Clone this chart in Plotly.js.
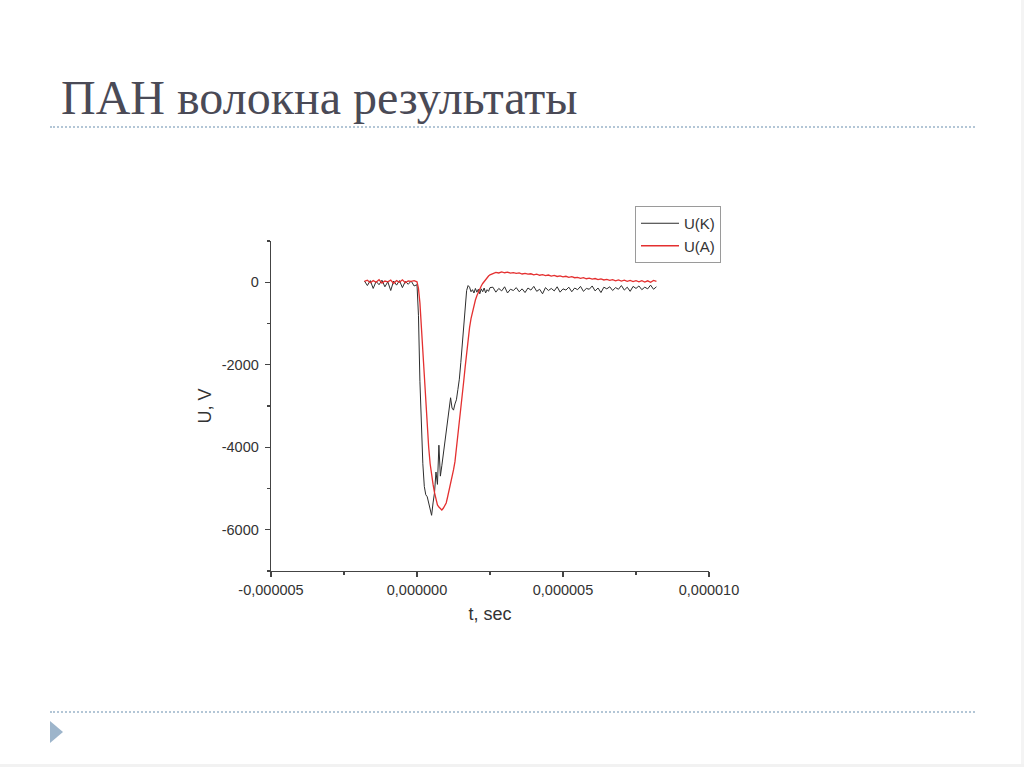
<!DOCTYPE html>
<html>
<head>
<meta charset="utf-8">
<script src="https://cdn.plot.ly/plotly-3.0.1.min.js"></script>
<style>
  html, body { margin: 0; padding: 0; background: #ffffff; }
  #wrap { position: relative; width: 1024px; height: 767px; overflow: hidden; background: #fff; }
  #chart { position: absolute; left: 0; top: 0; width: 1024px; height: 767px; }
  .dots { position: absolute; left: 50px; width: 925px; height: 0; border-top: 2px dotted #b3c6d6; }
  #tri { position: absolute; left: 50px; top: 721px; width: 0; height: 0;
         border-top: 11px solid transparent; border-bottom: 11px solid transparent; border-left: 13px solid #9db5cb; }
  #edge { position: absolute; right: 0; top: 0; width: 3px; height: 767px; background: #f4f4f4; }
  #edgeb { position: absolute; left: 0; bottom: 0; width: 1024px; height: 3px; background: #f2f2f2; }
</style>
</head>
<body>
<div id="wrap">
  <div id="chart"></div>
  <div class="dots" style="top:126px"></div>
  <div class="dots" style="top:711px"></div>
  <div id="tri"></div>
  <div id="edge"></div>
  <div id="edgeb"></div>
</div>
<script>
// time samples, microseconds
const tMicro = [
  -1.8,-1.7,-1.6,-1.5,-1.4,-1.3,-1.2,-1.1,-1.0,-0.9,-0.8,-0.7,-0.6,-0.5,-0.4,-0.3,-0.2,-0.1,
  0.00,0.05,0.10,0.15,0.20,0.25,0.30,0.35,0.40,0.45,0.50,0.55,0.60,0.65,0.70,0.75,0.80,0.85,0.90,0.95,
  1.00,1.05,1.10,1.15,1.20,1.25,1.30,1.35,1.40,1.45,1.50,1.55,1.60,1.65,1.70,1.75,1.80,1.85,1.90,1.95,
  2.00,2.05,2.10,2.15,2.20,2.25,2.30,2.35,2.40,2.45,2.50,
  2.6,2.7,2.8,2.9,3.0,3.1,3.2,3.3,3.4,3.5,
  3.6,3.7,3.8,3.9,4.0,4.1,4.2,4.3,4.4,4.5,
  4.6,4.7,4.8,4.9,5.0,5.1,5.2,5.3,5.4,5.5,
  5.6,5.7,5.8,5.9,6.0,6.1,6.2,6.3,6.4,6.5,
  6.6,6.7,6.8,6.9,7.0,7.1,7.2,7.3,7.4,7.5,
  7.6,7.7,7.8,7.9,8.0,8.1,8.2
];

// U(K), volts
const uK = [
  30,-80,40,-150,20,-60,50,-110,10,-200,30,-70,40,-130,20,-50,30,-90,
  -60,-800,-2400,-3700,-4400,-4950,-5150,-5200,-5350,-5450,-5650,-5350,-5100,-4600,-4900,-3950,-4700,-4450,-4150,-3850,
  -3550,-3250,-2950,-2800,-3050,-3100,-2950,-2850,-2600,-2350,-1950,-1550,-1000,-550,-200,-80,-120,-230,-180,-260,
  -150,-240,-170,-280,-160,-230,-140,-260,-180,-220,-130,
  -120,-240,-150,-210,-110,-260,-170,-200,-130,-230,
  -160,-250,-140,-190,-100,-220,-170,-280,-130,-200,
  -150,-210,-110,-240,-160,-190,-120,-230,-140,-180,
  -100,-220,-150,-170,-90,-210,-140,-250,-120,-160,
  -110,-200,-130,-170,-80,-190,-120,-220,-100,-150,
  -90,-180,-120,-160,-70,-170,-110
];

// U(A), volts
const uA = [
  20,50,-10,40,0,60,-20,30,10,50,-30,40,0,60,-10,30,20,40,
  10,-150,-500,-1100,-1800,-2450,-3050,-3600,-4000,-4400,-4700,-4900,-5100,-5250,-5400,-5450,-5500,-5520,-5480,-5430,
  -5350,-5200,-5050,-4900,-4750,-4550,-4350,-4050,-3750,-3400,-3050,-2750,-2400,-2050,-1700,-1350,-1100,-880,-700,-550,
  -430,-330,-240,-160,-90,-30,20,70,110,150,180,
  210,240,225,250,230,245,220,235,215,225,
  200,215,195,205,180,195,170,185,160,175,
  150,165,140,155,130,145,120,135,110,120,
  95,110,85,100,75,90,65,80,55,70,
  45,65,35,55,30,50,20,45,15,40,
  10,40,5,35,0,45,20
];

const seriesNames = ['U(K)', 'U(A)'];
const xTickVals = [-0.000005, 0, 0.000005, 0.00001];
const xTickText = ['-0,000005', '0,000000', '0,000005', '0,000010'];
const xMinorVals = [-0.0000025, 0.0000025, 0.0000075];
const yTickVals = [-6000, -4000, -2000, 0];
const yTickText = ['-6000', '-4000', '-2000', '0'];

const tSec = tMicro.map(v => v * 1e-6);

const traces = [
  { x: tSec, y: uK, name: seriesNames[0], type: 'scatter', mode: 'lines',
    line: { color: 'rgb(45,45,45)', width: 1 } },
  { x: tSec, y: uA, name: seriesNames[1], type: 'scatter', mode: 'lines',
    line: { color: 'rgb(228,48,48)', width: 1.3 } }
];

const sans = 'Liberation Sans, Arial, sans-serif';
const axisFont = { family: sans, size: 14.5, color: '#333' };

const layout = {
  width: 1024, height: 767,
  paper_bgcolor: 'rgba(0,0,0,0)', plot_bgcolor: 'rgba(0,0,0,0)',
  margin: { l: 271, r: 315, t: 241, b: 196, pad: 0 },
  title: {
    text: 'ПАН волокна результаты',
    font: { family: 'Liberation Serif, DejaVu Serif, serif', size: 48, color: '#4a4a56' },
    x: 61 / 1024, xanchor: 'left', xref: 'container',
    y: 1 - 97 / 767, yanchor: 'middle', yref: 'container'
  },
  showlegend: true,
  legend: {
    x: (635 - 271) / 438, y: (571 - 206) / 330, xanchor: 'left', yanchor: 'top',
    bordercolor: '#9a9a9a', borderwidth: 1, bgcolor: '#fff',
    itemwidth: 38, tracegroupgap: 0,
    font: { family: sans, size: 15, color: '#333' }
  },
  xaxis: {
    range: [-0.000005, 0.00001],
    tickmode: 'array', tickvals: xTickVals, ticktext: xTickText,
    ticks: 'outside', ticklen: 5, tickwidth: 1.3, tickcolor: '#444',
    minor: { tickmode: 'array', tickvals: xMinorVals, ticks: 'outside', ticklen: 3, tickwidth: 1.3, tickcolor: '#444' },
    showline: true, linecolor: '#444', linewidth: 1.3,
    showgrid: false, zeroline: false,
    tickfont: axisFont,
    title: { text: 't, sec', font: { family: sans, size: 18, color: '#333' }, standoff: 10 }
  },
  yaxis: {
    range: [-7000, 1000],
    tickmode: 'array', tickvals: yTickVals, ticktext: yTickText,
    ticks: 'outside', ticklen: 5, tickwidth: 1.3, tickcolor: '#444',
    ticklabelstandoff: 3,
    minor: { tickmode: 'linear', tick0: 1000, dtick: 2000, ticks: 'outside', ticklen: 3, tickwidth: 1.3, tickcolor: '#444' },
    showline: true, linecolor: '#444', linewidth: 1.3,
    showgrid: false, zeroline: false,
    tickfont: axisFont,
    title: { text: 'U, V', font: { family: sans, size: 18, color: '#333' }, standoff: 5 }
  },
  hovermode: false
};

Plotly.newPlot('chart', traces, layout, { displayModeBar: false, staticPlot: true });
</script>
</body>
</html>
